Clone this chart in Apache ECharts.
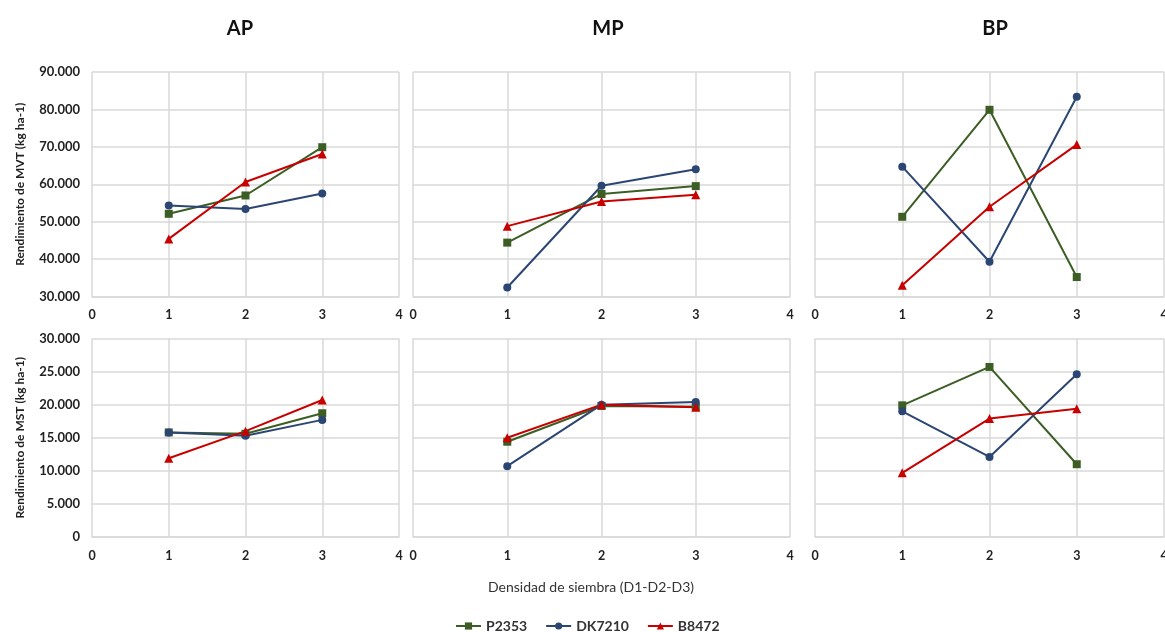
<!DOCTYPE html>
<html>
<head>
<meta charset="utf-8">
<script src="https://cdn.jsdelivr.net/npm/echarts@6/dist/echarts.min.js"></script>
<style>html,body{margin:0;padding:0;background:#fff;overflow:hidden}#c{width:1200px;height:632px}</style>
</head>
<body>
<div id="c"></div>
<script>
const panelTitles = ['AP', 'MP', 'BP'];
const seriesNames = ['P2353', 'DK7210', 'B8472'];
const densities = [1, 2, 3];
const xTicks = [0, 1, 2, 3, 4];

// MVT (top row)
const apMVT_P2353 = [52100, 57000, 69900];
const apMVT_DK7210 = [54300, 53400, 57500];
const apMVT_B8472 = [45400, 60600, 68100];
const mpMVT_P2353 = [44400, 57400, 59500];
const mpMVT_DK7210 = [32400, 59600, 64000];
const mpMVT_B8472 = [48800, 55400, 57200];
const bpMVT_P2353 = [51300, 79900, 35200];
const bpMVT_DK7210 = [64700, 39300, 83400];
const bpMVT_B8472 = [33000, 54000, 70600];

// MST (bottom row)
const apMST_P2353 = [15800, 15600, 18700];
const apMST_DK7210 = [15800, 15300, 17700];
const apMST_B8472 = [11900, 16000, 20700];
const mpMST_P2353 = [14400, 19800, 19700];
const mpMST_DK7210 = [10700, 20000, 20400];
const mpMST_B8472 = [15000, 20000, 19600];
const bpMST_P2353 = [19900, 25700, 11000];
const bpMST_DK7210 = [19000, 12100, 24600];
const bpMST_B8472 = [9700, 17900, 19400];

const mvtTicks = [30000, 40000, 50000, 60000, 70000, 80000, 90000];
const mstTicks = [0, 5000, 10000, 15000, 20000, 25000, 30000];

const yNameTop = 'Rendimiento de MVT (kg ha-1)';
const yNameBottom = 'Rendimiento de MST (kg ha-1)';
const xName = 'Densidad de siembra (D1-D2-D3)';

const panels = [
  [apMVT_P2353, apMVT_DK7210, apMVT_B8472],
  [mpMVT_P2353, mpMVT_DK7210, mpMVT_B8472],
  [bpMVT_P2353, bpMVT_DK7210, bpMVT_B8472],
  [apMST_P2353, apMST_DK7210, apMST_B8472],
  [mpMST_P2353, mpMST_DK7210, mpMST_B8472],
  [bpMST_P2353, bpMST_DK7210, bpMST_B8472]
];

const colors = ['#3C5E25', '#2B4673', '#C80000'];
const symbols = ['rect', 'circle', 'triangle'];
const symbolSizes = [8, 8, 9];
const FONT = 'Lato, "Open Sans", sans-serif';
const gridColor = '#d9d9d9';

function fmt(v) {
  if (v === 0) return '0';
  const s = String(Math.round(v));
  return s.replace(/\B(?=(\d{3})+(?!\d))/g, '.');
}

const cols = [{left: 92, width: 307}, {left: 413, width: 377}, {left: 815, width: 349}];
const rows = [{top: 72, height: 224.5}, {top: 338.5, height: 198.5}];

const grids = [], xAxes = [], yAxes = [], series = [];
for (let r = 0; r < 2; r++) {
  for (let c = 0; c < 3; c++) {
    const i = r * 3 + c;
    grids.push({left: cols[c].left, width: cols[c].width, top: rows[r].top, height: rows[r].height, containLabel: false});
    xAxes.push({
      type: 'value', gridIndex: i, min: xTicks[0], max: xTicks[xTicks.length - 1], interval: 1,
      axisLine: {show: true, lineStyle: {color: gridColor, width: 1.5}},
      axisTick: {show: false},
      axisLabel: {show: true, margin: 12, color: '#222', fontFamily: FONT, fontWeight: 'bold', fontSize: 12.5, showMinLabel: true, showMaxLabel: true},
      splitLine: {show: true, lineStyle: {color: gridColor, width: 1.5}}
    });
    const ticks = r === 0 ? mvtTicks : mstTicks;
    yAxes.push({
      type: 'value', gridIndex: i, min: ticks[0], max: ticks[ticks.length - 1], interval: ticks[1] - ticks[0],
      axisLine: {show: false}, axisTick: {show: false},
      axisLabel: {show: c === 0, margin: 12, color: '#222', fontFamily: FONT, fontWeight: 'bold', fontSize: 13, formatter: fmt},
      splitLine: {show: true, lineStyle: {color: gridColor, width: 1.5}},
      name: c === 0 ? (r === 0 ? yNameTop : yNameBottom) : '',
      nameLocation: 'middle', nameGap: 66, nameRotate: 90,
      nameTextStyle: {color: '#222', fontFamily: FONT, fontWeight: 'bold', fontSize: 12}
    });
    for (let s = 0; s < 3; s++) {
      series.push({
        name: seriesNames[s], type: 'line', xAxisIndex: i, yAxisIndex: i,
        data: densities.map((d, k) => [d, panels[i][s][k]]),
        symbol: symbols[s], symbolSize: symbolSizes[s],
        lineStyle: {color: colors[s], width: 2},
        itemStyle: {color: colors[s]},
        emphasis: {disabled: true}, animation: false
      });
    }
  }
}

const chart = echarts.init(document.getElementById('c'), null, {renderer: 'canvas'});
chart.setOption({
  animation: false,
  color: colors,
  title: panelTitles.map((t, c) => ({
    text: t, left: [235, 603, 990][c], top: 14, textAlign: 'center',
    textStyle: {fontFamily: FONT, fontWeight: 'bold', fontSize: 20, color: '#111'}
  })),
  legend: {
    data: seriesNames, left: 450, top: 614, itemGap: 18, itemWidth: 25, itemHeight: 9,
    textStyle: {fontFamily: FONT, fontWeight: 'bold', fontSize: 14, color: '#333'}
  },
  graphic: [{
    type: 'text', x: 591, y: 587,
    style: {text: xName, fontFamily: FONT, fontSize: 14, fill: '#333', align: 'center', verticalAlign: 'middle', textAlign: 'center', textVerticalAlign: 'middle'}
  }],
  grid: grids, xAxis: xAxes, yAxis: yAxes, series: series
});
</script>
</body>
</html>
